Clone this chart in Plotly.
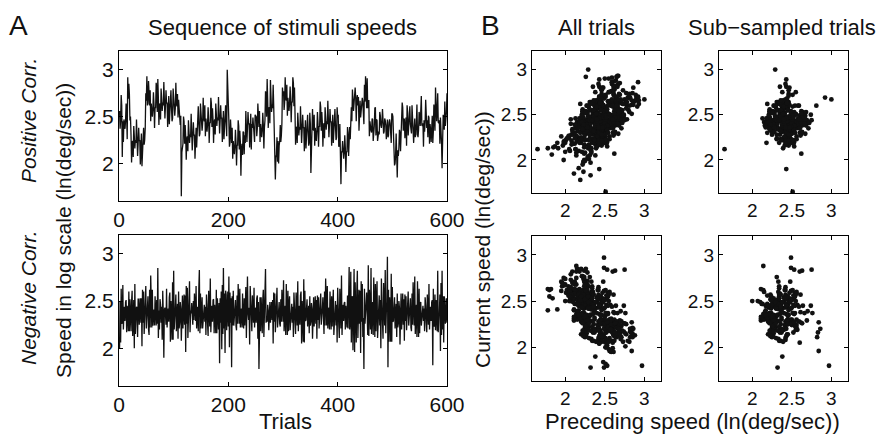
import numpy as np
import plotly.graph_objects as go

# ---------------- data (read/estimated from the reference) ----------------
trials_max = 600
x_ticks_trials = [0, 200, 400, 600]
speed_ticks = [2, 2.5, 3]
speed_tick_text = ["2", "2.5", "3"]

# Positively correlated sequence of stimulus speeds, in hundredths of ln(deg/sec)
pos_speeds_x100 = [
    256,237,246,273,262,207,245,223,247,243, 237,246,264,251,226,292,269,285,274,246,
    250,230,201,222,224,207,240,229,216,225, 222,247,225,208,221,238,224,225,199,221,
    232,197,216,221,238,220,225,238,275,267, 293,262,264,288,265,262,278,245,264,257,
    250,258,276,263,238,260,259,286,280,255, 290,270,241,262,264,247,280,269,256,265,
    262,287,265,248,261,278,264,265,239,261, 272,242,258,262,278,260,245,248,280,269,
    272,251,259,286,264,261,274,249,268,252, 250,241,251,165,212,218,221,250,245,221,
    241,229,204,226,229,213,246,235,222,231, 228,253,231,214,227,244,230,231,205,227,
    238,217,238,244,261,244,229,232,264,253, 256,235,243,270,248,245,262,229,248,241,
    234,242,260,247,222,244,243,270,264,239, 259,247,222,244,247,231,264,253,240,249,
    246,271,249,232,245,262,248,249,223,245, 256,226,242,246,262,244,229,300,267,255,
    245,218,222,247,225,222,238,205,224,217, 210,218,236,223,198,220,219,246,240,215,
    235,223,187,215,221,209,234,233,210,230, 222,256,238,223,238,255,242,243,217,239,
    253,215,242,238,249,242,231,223,252,251, 250,229,237,264,242,239,256,223,242,235,
    228,236,254,241,216,238,246,277,274,250, 290,268,238,258,260,243,289,272,255,263,
    259,284,261,227,232,183,206,210,228,202, 224,200,219,224,241,223,230,243,281,273,
    277,257,265,292,270,267,284,251,270,263, 256,264,282,269,244,266,265,292,286,261,
    281,253,220,238,239,222,254,243,230,239, 236,261,239,222,235,252,238,239,213,235,
    246,216,232,236,252,234,219,222,254,243, 190,219,230,258,237,235,252,219,238,231,
    224,235,255,243,218,240,239,266,260,235, 255,243,218,240,243,227,260,249,236,245,
    242,267,245,228,241,258,244,245,219,241, 252,222,238,242,258,240,225,228,260,249,
    252,218,219,242,219,178,213,212,224,214, 205,212,230,217,191,213,212,239,233,208,
    228,239,226,254,260,245,279,269,256,265, 266,281,270,245,268,273,262,271,235,264,
    267,249,254,265,270,266,247,242,284,266, 293,266,259,291,259,267,267,229,245,237,
    235,233,248,247,224,232,240,259,260,230, 247,246,224,234,234,231,255,251,241,238,
    245,258,246,232,234,248,246,241,226,235, 247,228,230,244,247,243,230,222,253,253,
    250,220,223,198,200,209,232,211,185,214, 208,217,236,233,213,238,238,265,260,235,
    248,247,227,237,249,219,262,254,230,248, 247,261,242,236,232,262,251,243,222,236,
    248,228,231,244,263,231,228,236,255,250, 240,251,272,241,240,243,218,246,234,244,
    268,253,238,246,228,251,249,221,242,236, 223,239,251,222,234,263,247,235,281,260,
    245,255,275,244,243,246,221,249,237,222, 195,226,252,247,236,266,240,245,255,275,
]

# Negatively correlated sequence of stimulus speeds, in hundredths of ln(deg/sec)
neg_speeds_x100 = [
    200,250,206,263,226,227,267,220,236,244, 229,249,251,217,245,235,218,260,218,252,
    237,218,249,261,213,247,251,200,268,215, 234,244,243,212,252,252,225,234,253,227,
    253,202,262,227,260,215,230,234,266,221, 232,243,255,220,214,262,222,277,225,222,
    262,224,237,241,224,255,229,224,251,226, 285,211,240,220,252,246,227,244,209,261,
    238,190,241,243,236,225,263,222,237,242, 228,254,259,207,250,233,209,270,209,282,
    220,232,242,257,218,245,247,210,260,221, 227,249,242,208,254,256,221,234,257,225,
    256,196,266,226,264,211,229,233,271,217, 240,237,248,228,225,250,230,258,231,229,
    266,221,235,244,218,263,283,216,258,221, 243,254,221,232,245,246,228,244,214,257,
    246,226,213,261,227,223,274,217,235,245, 228,251,252,216,246,235,216,262,216,253,
    236,220,248,184,253,227,260,199,267,215, 285,221,258,195,261,257,219,233,260,223,
    276,201,259,227,253,180,255,224,261,224, 234,241,251,224,219,256,226,268,228,226,
    263,222,237,242,222,258,229,221,253,224, 242,265,211,231,276,237,230,243,204,266,
    237,232,218,256,230,227,264,222,236,243, 227,253,256,210,249,178,240,254,218,254,
    237,216,251,262,212,247,253,284,227,234, 228,246,240,219,247,249,227,235,249,230,
    251,205,259,228,258,217,231,234,264,222, 237,239,249,226,223,252,228,262,230,228,
    272,218,235,245,214,268,224,214,261,218, 245,255,219,232,245,247,227,244,212,259,
    244,227,215,259,228,224,271,218,236,245, 225,256,260,205,250,234,207,273,206,261,
    229,230,242,252,223,243,245,216,255,224, 228,248,242,210,253,254,223,234,255,226,
    251,210,256,230,254,221,232,235,258,225, 231,242,254,222,215,260,224,274,226,224,
    266,221,236,243,220,260,228,220,255,223, 242,262,214,231,247,250,224,246,206,264,
    245,225,211,263,227,221,277,214,236,246, 229,248,249,220,245,234,222,256,221,249,
    286,220,228,281,206,254,255,198,275,284, 196,270,239,206,260,282,211,241,262,226,
    261,195,271,228,268,212,232,178,263,226, 233,247,259,223,214,288,213,262,237,220,
    285,215,239,249,214,275,226,212,268,218, 248,271,211,233,252,256,224,251,200,274,
    245,230,210,269,229,224,283,216,238,249, 297,180,262,207,254,236,207,279,207,265,
    228,229,243,254,221,243,247,212,258,222, 226,250,243,204,256,258,220,234,258,225,
    252,208,257,229,255,219,232,235,260,224, 233,241,253,222,218,258,225,270,228,224,
    276,215,235,246,212,271,223,212,263,216, 247,249,224,233,243,245,229,242,218,254,
    245,227,217,257,229,225,268,220,236,244, 229,249,251,182,263,226,223,257,219,251,
    237,218,282,217,235,236,257,197,269,214, 282,220,255,206,255,250,226,234,253,227,
]

pos_speeds = [v / 100.0 for v in pos_speeds_x100]
neg_speeds = [v / 100.0 for v in neg_speeds_x100]


# ---------------- helpers ----------------
def lag_pairs(seq):
    """(preceding speed, current speed) pairs of a sequence."""
    return list(seq[:-1]), list(seq[1:])


def decorrelated_subset(prev, cur):
    """Greedy sub-sampling of trial pairs that removes the lag-1 correlation."""
    mx, my = float(np.mean(prev)), float(np.mean(cur))
    acc, xs, ys = 0.0, [], []
    for a, b in zip(prev, cur):
        p = (a - mx) * (b - my)
        if acc * p <= 0 or abs(acc + p) < 0.05:
            xs.append(a)
            ys.append(b)
            acc += p
    return xs, ys


FONT = "Liberation Sans, Arial, Helvetica, sans-serif"
INK = "#111111"
W, H = 879, 436


def px(x):
    return x / W


def py(y):
    return 1 - y / H


fig = go.Figure()

# time series
for k, seq in enumerate([pos_speeds, neg_speeds], start=1):
    fig.add_trace(go.Scatter(
        x=list(range(1, len(seq) + 1)), y=list(seq), mode="lines",
        line=dict(color=INK, width=1.3),
        xaxis=f"x{'' if k == 1 else k}", yaxis=f"y{'' if k == 1 else k}",
        showlegend=False, hoverinfo="skip"))

# scatters
scatter_sets = []
for seq in [pos_speeds, neg_speeds]:
    a, b = lag_pairs(seq)
    scatter_sets.append((a, b))
    scatter_sets.append(decorrelated_subset(a, b))
for k, (a, b) in enumerate(scatter_sets, start=3):
    fig.add_trace(go.Scatter(
        x=list(a), y=list(b), mode="markers",
        marker=dict(color=INK, size=4.8, line=dict(width=0)),
        xaxis=f"x{k}", yaxis=f"y{k}", showlegend=False, hoverinfo="skip"))

axis_common = dict(
    showline=True, linecolor="black", linewidth=1.2, mirror="ticks",
    ticks="inside", ticklen=4, tickcolor="black", tickwidth=1,
    showgrid=False, zeroline=False, automargin=False,
    tickfont=dict(family=FONT, size=21, color=INK),
)

ts_x = [px(119), px(447)]
ts_dom_y = [[py(201), py(51)], [py(386), py(235)]]
sc_x = [[px(532), px(661)], [px(719), px(848)]]
sc_dom_y = [[py(193), py(51)], [py(381), py(236)]]

layout = dict(
    template="none",
    width=W, height=H, margin=dict(l=0, r=0, t=0, b=0, pad=0),
    paper_bgcolor="white", plot_bgcolor="white",
    font=dict(family=FONT, color=INK),
    showlegend=False,
)

for k in (1, 2):
    sfx = "" if k == 1 else str(k)
    layout[f"xaxis{sfx}"] = dict(axis_common, domain=ts_x, range=[0, trials_max],
                                 tickvals=x_ticks_trials, anchor=f"y{sfx}")
    layout[f"yaxis{sfx}"] = dict(axis_common, domain=ts_dom_y[k - 1], range=[1.6, 3.2],
                                 tickvals=speed_ticks, ticktext=speed_tick_text,
                                 anchor=f"x{sfx}")

k = 3
for row in range(2):
    for col in range(2):
        sc_tick = dict(axis_common)
        sc_tick["tickfont"] = dict(family=FONT, size=19, color=INK)
        layout[f"xaxis{k}"] = dict(sc_tick, domain=sc_x[col], range=[1.58, 3.21],
                                   tickvals=speed_ticks, ticktext=speed_tick_text,
                                   anchor=f"y{k}")
        layout[f"yaxis{k}"] = dict(sc_tick, domain=sc_dom_y[row], range=[1.635, 3.205],
                                   tickvals=speed_ticks, ticktext=speed_tick_text,
                                   anchor=f"x{k}")
        k += 1

fig.update_layout(**layout)


def label(text, x, y, size=22, angle=0):
    fig.add_annotation(text=text, x=px(x), y=py(y), xref="paper", yref="paper",
                       showarrow=False, xanchor="center", yanchor="middle",
                       textangle=angle, font=dict(family=FONT, size=size, color=INK))


label("A", 18, 26, size=28)
label("B", 491, 26, size=28)
label("Sequence of stimuli speeds", 282, 27)
label("All trials", 596, 27)
label("Sub\u2212sampled trials", 782, 27)
label("<i>Positive Corr.</i>", 28, 121, size=21, angle=-90)
label("<i>Negative Corr.</i>", 28, 298, size=21, angle=-90)
label("Speed in log scale (ln(deg/sec))", 63, 231, size=21, angle=-90)
label("Trials", 285, 421)
label("Current speed (ln(deg/sec))", 482, 240, size=21, angle=-90)
label("Preceding speed (ln(deg/sec))", 692, 421)

fig.write_html(
    "out.html",
    config={"displayModeBar": False},
    post_script="document.body.style.margin='0';document.body.style.overflow='hidden';",
)
